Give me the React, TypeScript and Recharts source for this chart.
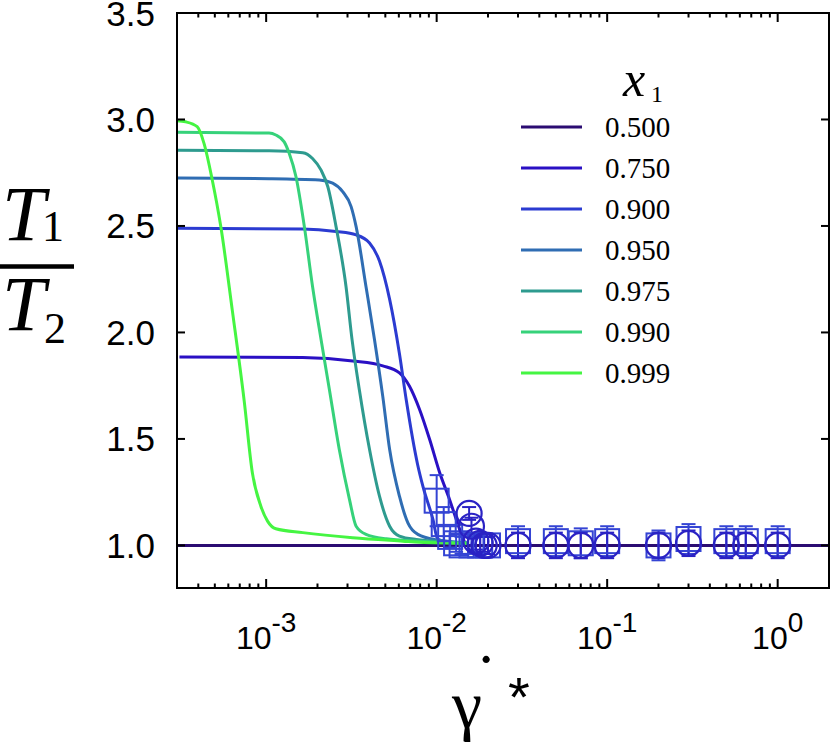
import React from 'react';
import { ComposedChart, Line, Scatter, XAxis, YAxis, ErrorBar, Legend, ReferenceLine } from 'recharts';

// ---------- axes ----------
const X_DOMAIN = [0.0003, 2];
const Y_DOMAIN = [0.8, 3.5];
const X_MAJOR = [0.001, 0.01, 0.1, 1];
const X_MAJOR_EXP = ['-3', '-2', '-1', '0'];
const X_MINOR = [
  0.0004, 0.0005, 0.0006, 0.0007, 0.0008, 0.0009,
  0.002, 0.003, 0.004, 0.005, 0.006, 0.007, 0.008, 0.009,
  0.02, 0.03, 0.04, 0.05, 0.06, 0.07, 0.08, 0.09,
  0.2, 0.3, 0.4, 0.5, 0.6, 0.7, 0.8, 0.9,
];
const Y_TICKS = [1.0, 1.5, 2.0, 2.5, 3.0, 3.5];

// ---------- series (x1 values) ----------
const SERIES_LABELS = ['0.500', '0.750', '0.900', '0.950', '0.975', '0.990', '0.999'];
const SERIES_COLORS = ['#2b0c72', '#2a10c4', '#2b3bd1', '#2f6db3', '#2e9b8f', '#36d27a', '#45f542'];

const curve500 = [
  { x: 0.0003, y: 1.0 },
  { x: 2, y: 1.0 },
];
const curve750 = [
  { x: 0.00031, y: 1.885 },
  { x: 0.00164, y: 1.882 },
  { x: 0.00322, y: 1.866 },
  { x: 0.00483, y: 1.843 },
  { x: 0.00605, y: 1.81 },
  { x: 0.00693, y: 1.747 },
  { x: 0.00794, y: 1.638 },
  { x: 0.0091, y: 1.497 },
  { x: 0.01042, y: 1.341 },
  { x: 0.0119, y: 1.216 },
  { x: 0.01365, y: 1.075 },
  { x: 0.0146, y: 1.014 },
];
const curve900 = [
  { x: 0.0003, y: 2.489 },
  { x: 0.00164, y: 2.486 },
  { x: 0.00257, y: 2.474 },
  { x: 0.00337, y: 2.458 },
  { x: 0.00404, y: 2.42 },
  { x: 0.00462, y: 2.335 },
  { x: 0.0053, y: 2.155 },
  { x: 0.00605, y: 1.9 },
  { x: 0.00664, y: 1.68 },
  { x: 0.00773, y: 1.38 },
  { x: 0.0083, y: 1.278 },
  { x: 0.00951, y: 1.122 },
  { x: 0.01014, y: 1.03 },
  { x: 0.0125, y: 1.012 },
];
const curve950 = [
  { x: 0.0003, y: 2.725 },
  { x: 0.00104, y: 2.722 },
  { x: 0.00205, y: 2.716 },
  { x: 0.002455, y: 2.701 },
  { x: 0.00281, y: 2.661 },
  { x: 0.00315, y: 2.591 },
  { x: 0.00337, y: 2.497 },
  { x: 0.00385, y: 2.216 },
  { x: 0.00432, y: 1.966 },
  { x: 0.00483, y: 1.7 },
  { x: 0.0053, y: 1.45 },
  { x: 0.00605, y: 1.231 },
  { x: 0.00678, y: 1.106 },
  { x: 0.00776, y: 1.052 },
  { x: 0.0102, y: 1.025 },
  { x: 0.015, y: 1.012 },
];
const curve975 = [
  { x: 0.0003, y: 2.856 },
  { x: 0.00104, y: 2.853 },
  { x: 0.00164, y: 2.844 },
  { x: 0.001871, y: 2.817 },
  { x: 0.0021, y: 2.762 },
  { x: 0.0023, y: 2.684 },
  { x: 0.00257, y: 2.497 },
  { x: 0.00294, y: 2.216 },
  { x: 0.00319, y: 1.966 },
  { x: 0.00352, y: 1.731 },
  { x: 0.00404, y: 1.45 },
  { x: 0.00462, y: 1.231 },
  { x: 0.0053, y: 1.09 },
  { x: 0.00605, y: 1.044 },
  { x: 0.0076, y: 1.028 },
  { x: 0.015, y: 1.012 },
];
const curve990 = [
  { x: 0.0003, y: 2.94 },
  { x: 0.00104, y: 2.936 },
  { x: 0.00114, y: 2.927 },
  { x: 0.001276, y: 2.895 },
  { x: 0.001365, y: 2.841 },
  { x: 0.001496, y: 2.731 },
  { x: 0.001675, y: 2.497 },
  { x: 0.001871, y: 2.216 },
  { x: 0.0021, y: 1.966 },
  { x: 0.00235, y: 1.731 },
  { x: 0.002685, y: 1.45 },
  { x: 0.00308, y: 1.216 },
  { x: 0.00337, y: 1.09 },
  { x: 0.00385, y: 1.052 },
  { x: 0.00506, y: 1.031 },
  { x: 0.00794, y: 1.02 },
  { x: 0.015, y: 1.01 },
];
const curve999 = [
  { x: 0.0003, y: 2.994 },
  { x: 0.000337, y: 2.989 },
  { x: 0.000394, y: 2.966 },
  { x: 0.000432, y: 2.888 },
  { x: 0.000483, y: 2.716 },
  { x: 0.000542, y: 2.497 },
  { x: 0.000634, y: 2.1 },
  { x: 0.000743, y: 1.68 },
  { x: 0.00083, y: 1.341 },
  { x: 0.000931, y: 1.184 },
  { x: 0.001019, y: 1.114 },
  { x: 0.00114, y: 1.078 },
  { x: 0.00164, y: 1.06 },
  { x: 0.00322, y: 1.036 },
  { x: 0.00634, y: 1.02 },
  { x: 0.00794, y: 1.015 },
  { x: 0.015, y: 1.01 },
];
const CURVES = [curve500, curve750, curve900, curve950, curve975, curve990, curve999];

// ---------- simulation points ----------
const SQUARE_POINTS = [
  { x: 0.01, y: 1.21, err: 0.12 },
  { x: 0.011, y: 1.1, err: 0.08 },
  { x: 0.012, y: 1.04, err: 0.05 },
  { x: 0.013, y: 1.01, err: 0.04 },
  { x: 0.014, y: 1.0, err: 0.04 },
  { x: 0.016, y: 1.0, err: 0.04 },
  { x: 0.018, y: 1.0, err: 0.04 },
  { x: 0.02, y: 1.0, err: 0.04 },
  { x: 0.03, y: 1.02, err: 0.07 },
  { x: 0.05, y: 1.02, err: 0.07 },
  { x: 0.07, y: 1.01, err: 0.07 },
  { x: 0.1, y: 1.02, err: 0.07 },
  { x: 0.2, y: 1.0, err: 0.07 },
  { x: 0.3, y: 1.03, err: 0.07 },
  { x: 0.5, y: 1.02, err: 0.07 },
  { x: 0.65, y: 1.02, err: 0.07 },
  { x: 1.0, y: 1.02, err: 0.07 },
];
const CIRCLE_POINTS = [
  { x: 0.0155, y: 1.15, err: 0.03 },
  { x: 0.016, y: 1.09, err: 0.04 },
  { x: 0.017, y: 1.02, err: 0.04 },
  { x: 0.018, y: 1.01, err: 0.04 },
  { x: 0.019, y: 1.0, err: 0.04 },
  { x: 0.02, y: 1.0, err: 0.04 },
  { x: 0.03, y: 1.0, err: 0.06 },
  { x: 0.05, y: 1.0, err: 0.06 },
  { x: 0.07, y: 1.0, err: 0.06 },
  { x: 0.1, y: 1.0, err: 0.06 },
  { x: 0.2, y: 1.0, err: 0.06 },
  { x: 0.3, y: 1.01, err: 0.06 },
  { x: 0.5, y: 1.0, err: 0.06 },
  { x: 0.65, y: 1.0, err: 0.06 },
  { x: 1.0, y: 1.0, err: 0.06 },
];
const SQUARE_COLOR = '#3444d4';
const CIRCLE_COLOR = '#2a22c4';

const SANS = "'Liberation Sans', Arial, sans-serif";
const SERIF = "'Liberation Serif', 'Times New Roman', serif";

// layout constants
const PLOT_TOP = 13;
const PLOT_LEFT = 177;
const PLOT_RIGHT = 829;
const PLOT_BOTTOM = 588;

const BottomTick = (props: any) => {
  const { x, y, payload } = props;
  const idx = X_MAJOR.indexOf(payload.value);
  const major = idx >= 0;
  const len = major ? 9 : 4.5;
  return (
    <g>
      <line x1={x} x2={x} y1={y} y2={y - len} stroke="#000" strokeWidth={2} />
      <line x1={x} x2={x} y1={PLOT_TOP} y2={PLOT_TOP + len} stroke="#000" strokeWidth={2} />
      {major && (
        <text x={x} y={y + 61} textAnchor="middle" fontFamily={SANS} fontSize={32} fill="#000">
          10
          <tspan dy={-17} fontSize={28}>{X_MAJOR_EXP[idx]}</tspan>
        </text>
      )}
    </g>
  );
};

const LeftTick = (props: any) => {
  const { x, y, payload } = props;
  return (
    <g>
      <line x1={x} x2={x + 8} y1={y} y2={y} stroke="#000" strokeWidth={2} />
      <text x={x - 22} y={y + 12.5} textAnchor="end" fontFamily={SANS} fontSize={35} fill="#000">
        {Number(payload.value).toFixed(1)}
      </text>
    </g>
  );
};

const RightTick = (props: any) => {
  const { x, y } = props;
  return <line x1={x} x2={x - 8} y1={y} y2={y} stroke="#000" strokeWidth={2} />;
};

const YTitle = () => (
  <g>
    <rect
      x={PLOT_LEFT}
      y={PLOT_TOP}
      width={PLOT_RIGHT - PLOT_LEFT}
      height={PLOT_BOTTOM - PLOT_TOP}
      fill="none"
      stroke="#000"
      strokeWidth={2}
    />
    <text x={2} y={240} fontFamily={SERIF} fontStyle="italic" fontSize={78} fill="#000">T</text>
    <text x={42} y={241} fontFamily={SERIF} fontSize={44} fill="#000">1</text>
    <line x1={0} x2={74} y1={266.5} y2={266.5} stroke="#000" strokeWidth={4.5} />
    <text x={2} y={330} fontFamily={SERIF} fontStyle="italic" fontSize={78} fill="#000">T</text>
    <text x={44} y={343} fontFamily={SERIF} fontSize={44} fill="#000">2</text>
  </g>
);

const XTitle = () => (
  <g>
    <text x={452} y={728} fontFamily={SERIF} fontSize={68} fill="#000">γ</text>
    <text x={486} y={701} textAnchor="middle" fontFamily={SERIF} fontSize={68} fill="#000">˙</text>
    <text x={508} y={716} fontFamily={SANS} fontSize={56} fill="#000">*</text>
  </g>
);

const LegendBox = () => (
  <svg width={200} height={340} style={{ display: 'block', overflow: 'visible' }}>
    <text x={108} y={36} fontFamily={SERIF} fontStyle="italic" fontSize={50} fill="#000">x</text>
    <text x={136} y={42} fontFamily={SERIF} fontSize={24} fill="#000">1</text>
    {SERIES_LABELS.map((lab, i) => (
      <g key={lab}>
        <line x1={6} x2={67} y1={67 + i * 41} y2={67 + i * 41} stroke={SERIES_COLORS[i]} strokeWidth={3} />
        <text x={90} y={77 + i * 41} fontFamily={SERIF} fontSize={29} fill="#000">{lab}</text>
      </g>
    ))}
  </svg>
);

const SquareShape = (props: any) => {
  const { cx, cy } = props;
  if (cx == null || cy == null) return null;
  return <rect x={cx - 12} y={cy - 12} width={24} height={24} fill="none" stroke={SQUARE_COLOR} strokeWidth={2} />;
};
const CircleShape = (props: any) => {
  const { cx, cy } = props;
  if (cx == null || cy == null) return null;
  return <circle cx={cx} cy={cy} r={12.5} fill="none" stroke={CIRCLE_COLOR} strokeWidth={2.2} />;
};

export default function App() {
  const axisLine = { stroke: '#000', strokeWidth: 2 };
  return (
    <div style={{ position: 'absolute', left: 0, top: 0, width: 830, height: 746, background: '#fff' }}>
      <ComposedChart width={830} height={746} margin={{ top: PLOT_TOP, right: 0, bottom: 0, left: 0 }}>
        <XAxis
          xAxisId="b"
          dataKey="x"
          type="number"
          scale="log"
          orientation="bottom"
          domain={X_DOMAIN}
          allowDataOverflow
          ticks={[...X_MAJOR, ...X_MINOR]}
          interval={0}
          tickSize={0}
          tickMargin={0}
          tickLine={false}
          axisLine={axisLine}
          tick={<BottomTick />}
          height={158}
          label={<XTitle />}
        />
        <YAxis
          yAxisId="l"
          dataKey="y"
          type="number"
          domain={Y_DOMAIN}
          allowDataOverflow
          ticks={Y_TICKS}
          interval={0}
          tickSize={0}
          tickMargin={0}
          tickLine={false}
          axisLine={axisLine}
          tick={<LeftTick />}
          width={177}
          label={<YTitle />}
        />
        <YAxis
          yAxisId="r"
          orientation="right"
          dataKey="y"
          type="number"
          domain={Y_DOMAIN}
          allowDataOverflow
          ticks={Y_TICKS}
          interval={0}
          tickSize={0}
          tickMargin={0}
          tickLine={false}
          axisLine={axisLine}
          tick={<RightTick />}
          width={1}
        />
        <ReferenceLine xAxisId="b" yAxisId="l" y={3.5} stroke="#000" strokeWidth={2} ifOverflow="visible" />
        <Legend
          layout="vertical"
          align="center"
          verticalAlign="middle"
          wrapperStyle={{ left: 515, top: 60, width: 200, height: 340 }}
          content={() => <LegendBox />}
        />
        {CURVES.map((c, i) => (
          <Line
            key={SERIES_LABELS[i]}
            data={c}
            dataKey="y"
            name={SERIES_LABELS[i]}
            xAxisId="b"
            yAxisId="l"
            type="monotone"
            stroke={SERIES_COLORS[i]}
            strokeWidth={3}
            dot={false}
            activeDot={false}
            isAnimationActive={false}
          />
        ))}
        <Scatter
          data={SQUARE_POINTS}
          xAxisId="b"
          yAxisId="l"
          shape={<SquareShape />}
          legendType="none"
          isAnimationActive={false}
        >
          <ErrorBar dataKey="err" direction="y" width={7} stroke={SQUARE_COLOR} strokeWidth={2} isAnimationActive={false} />
        </Scatter>
        <Scatter
          data={CIRCLE_POINTS}
          xAxisId="b"
          yAxisId="l"
          shape={<CircleShape />}
          legendType="none"
          isAnimationActive={false}
        >
          <ErrorBar dataKey="err" direction="y" width={7} stroke={CIRCLE_COLOR} strokeWidth={2} isAnimationActive={false} />
        </Scatter>
      </ComposedChart>
    </div>
  );
}
